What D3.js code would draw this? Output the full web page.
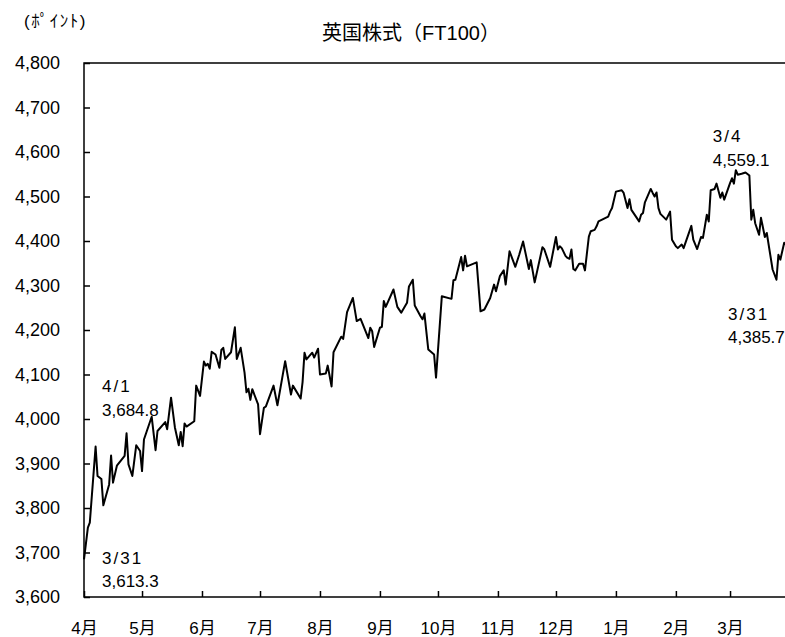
<!DOCTYPE html>
<html><head><meta charset="utf-8">
<script src="https://cdn.jsdelivr.net/npm/d3@7"></script>
<style>
body{margin:0;background:#fff;}
text{font-family:"Liberation Sans","Noto Sans CJK JP",Arial,sans-serif;fill:#000;}
</style></head>
<body><svg id="c" width="785" height="637"></svg>
<script>
// Trading-day offsets from 4/1 and FT100 closing values (points)
const dayOffsets = [0,2,3,6,7,9,10,13,14,15,17,21,22,23,25,27,29,30,31,35,37,38,42,43,45,47,49,50,51,52,53,57,58,60,62,63,64,65,66,68,70,71,72,73,76,78,79,81,83,84,85,86,87,90,91,93,94,98,100,104,107,108,112,113,114,115,118,119,121,122,125,126,128,129,133,134,136,139,141,143,147,148,149,150,153,154,155,156,160,162,164,167,168,170,171,174,175,176,178,181,182,185,190,191,192,195,196,197,198,203,205,207,210,212,213,215,217,218,220,223,225,227,230,231,233,237,238,241,244,245,246,247,249,250,251,252,253,254,256,258,259,261,262,264,265,266,271,272,273,275,278,279,281,282,283,285,287,288,289,290,293,294,295,296,297,298,301,303,304,306,307,309,310,314,315,317,319,320,322,323,324,326,327,329,330,331,334,335,336,337,338,340,342,344,345,346,347,349,350,352,353,356,358,359,360,362,364];
const values = [3684.8,3756,3767,3938,3872,3865,3806,3853,3918,3857,3895,3917,3968,3898,3872,3941,3928,3883,3954,4005,3930,3973,3993,3977,4048,3981,3941,3971,3939,3990,3983,3995,4075,4052,4129,4120,4124,4113,4151,4145,4115,4155,4160,4135,4150,4206,4135,4160,4104,4060,4068,4043,4067,4033,3966,4025,4028,4075,4031,4130,4055,4075,4046,4083,4149,4134,4149,4138,4158,4100,4102,4120,4073,4150,4185,4180,4240,4272,4220,4225,4182,4205,4197,4162,4205,4207,4265,4252,4291,4252,4239,4261,4298,4313,4255,4231,4224,4237,4156,4145,4093,4276,4270,4312,4313,4364,4334,4367,4343,4352,4242,4246,4272,4302,4287,4321,4334,4302,4377,4342,4369,4399,4337,4357,4307,4386,4381,4342,4409,4381,4388,4384,4366,4362,4360,4381,4337,4334,4349,4349,4334,4410,4422,4425,4433,4444,4455,4466,4474,4511,4514,4508,4474,4494,4470,4457,4444,4459,4463,4487,4517,4508,4500,4509,4474,4461,4448,4466,4403,4388,4384,4392,4384,4434,4403,4382,4409,4407,4459,4444,4514,4517,4529,4497,4509,4493,4530,4541,4529,4559.1,4549,4551,4554,4547,4448,4470,4440,4414,4452,4409,4418,4336,4313,4369,4358,4396,4385.7];
const monthLabels = ["4月","5月","6月","7月","8月","9月","10月","11月","12月","1月","2月","3月"];
const yTicks = [3600,3700,3800,3900,4000,4100,4200,4300,4400,4500,4600,4700,4800];
const annotations = [
  {day:0, lines:["4/1","3,684.8"], dx:18, y:[392,416]},
  {day:0, lines:["3/31","3,613.3"], dx:18, y:[564,587]},
  {day:337, lines:["3/4","4,559.1"], dx:-23, y:[142,166]},
  {day:364, lines:["3/31","4,385.7"], dx:-60, y:[320,343]}
];
const title = "英国株式（FT100）";
const unitLabel = "(ﾎﾟｲﾝﾄ)";

const svg = d3.select("#c");
const start = new Date(1996,3,1), end = new Date(1997,3,1);
const x = d3.scaleTime().domain([start,end]).range([84,790]);
const y = d3.scaleLinear().domain([3600,4800]).range([597,63]);

const data = dayOffsets.map((d,i)=>({date:d3.timeDay.offset(start,d), v:values[i]}));
const months = d3.timeMonth.range(start, d3.timeDay.offset(end,-1));

// frame
svg.append("rect").attr("x",x.range()[0]).attr("y",y.range()[1])
  .attr("width",x.range()[1]-x.range()[0]).attr("height",y.range()[0]-y.range()[1])
  .attr("fill","none").attr("stroke","#000").attr("stroke-width",1.5);

// y axis
const yAxis = svg.append("g").attr("transform",`translate(${x.range()[0]},0)`)
  .call(d3.axisLeft(y).tickValues(yTicks).tickSize(-6).tickPadding(24).tickFormat(d3.format(",")));
yAxis.select(".domain").remove();
yAxis.selectAll("line").attr("stroke","#000").attr("stroke-width",1.5);
yAxis.selectAll("text").attr("font-size",18).attr("font-family",'"Liberation Sans",Arial,sans-serif').attr("fill","#000");

// x axis
const xAxis = svg.append("g").attr("transform",`translate(0,${y.range()[0]})`)
  .call(d3.axisBottom(x).tickValues(months).tickSize(-6).tickPadding(25).tickFormat((d,i)=>monthLabels[i]));
xAxis.select(".domain").remove();
xAxis.selectAll("line").attr("stroke","#000").attr("stroke-width",1.5);
xAxis.selectAll("text").attr("font-size",17).attr("font-family",'"Liberation Sans","Noto Sans CJK JP",sans-serif').attr("fill","#000");

// line
svg.append("path").datum(data)
  .attr("fill","none").attr("stroke","#000").attr("stroke-width",2).attr("stroke-linejoin","round")
  .attr("d", d3.line().x(d=>x(d.date)).y(d=>y(d.v)));

// annotations
annotations.forEach(a=>{
  const px = x(d3.timeDay.offset(start,a.day)) + a.dx;
  a.lines.forEach((t,i)=>{
    svg.append("text").attr("x",px).attr("y",a.y[i]).attr("font-size",17)
      .attr("letter-spacing", i===0 ? 2 : 0).text(t);
  });
});

// title
svg.append("text").attr("x",411).attr("y",40).attr("text-anchor","middle")
  .attr("font-size",20).text(title);
svg.append("text").attr("x",24).attr("y",27).attr("font-size",17).attr("letter-spacing",1.5)
  .attr("font-family",'"Noto Sans CJK JP",sans-serif').text(unitLabel);
</script></body></html>
